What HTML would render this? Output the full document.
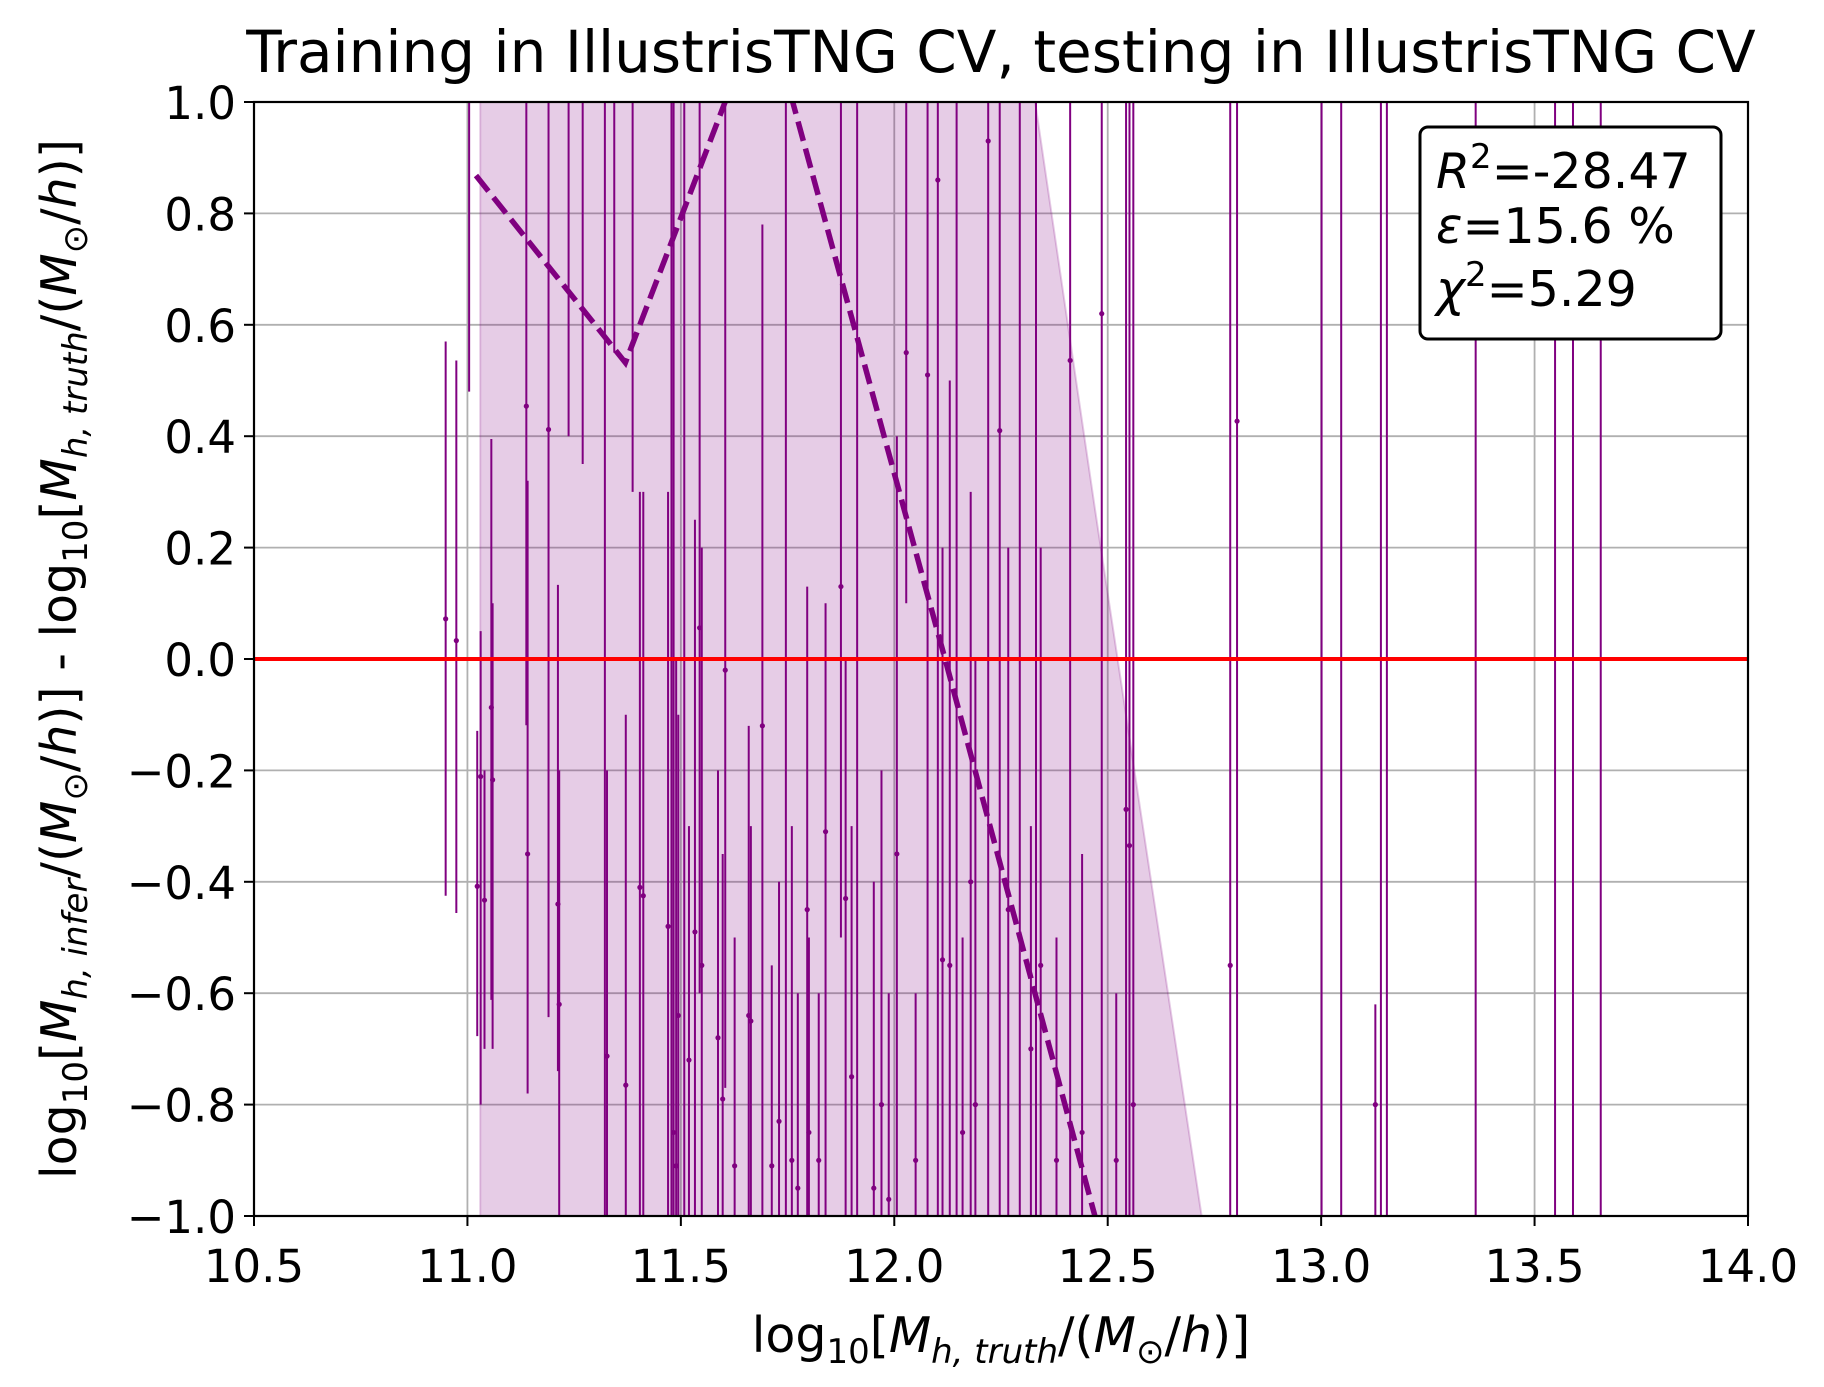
<!DOCTYPE html>
<html><head><meta charset="utf-8"><style>
html,body{margin:0;padding:0;background:#fff;overflow:hidden;width:1824px;height:1387px;}
svg{display:block;font-family:"DejaVu Sans","Liberation Sans",sans-serif;}
</style></head><body>
<svg id="chart" width="1824" height="1387" viewBox="0 0 1824 1387" xmlns="http://www.w3.org/2000/svg">
<rect width="1824" height="1387" fill="#fff"/>
<defs><clipPath id="plotclip"><rect x="254" y="102" width="1494" height="1114"/></clipPath></defs>
<g id="grid"></g>
<g id="band" clip-path="url(#plotclip)"></g>
<g id="bars" clip-path="url(#plotclip)"></g>
<g id="zero" clip-path="url(#plotclip)"></g>
<g id="trend" clip-path="url(#plotclip)"></g>
<g id="axes"></g>
<text x="1001" y="72" font-size="58" text-anchor="middle">Training in IllustrisTNG CV, testing in IllustrisTNG CV</text>
<text x="1001" y="1352" font-size="49" text-anchor="middle">log<tspan font-size="34" dy="11">10</tspan><tspan dy="-11">[</tspan><tspan font-style="italic">M</tspan><tspan font-size="34" dy="11" font-style="italic">h, truth</tspan><tspan dy="-11">/(</tspan><tspan font-style="italic">M</tspan><tspan font-size="34" dy="11">⊙</tspan><tspan dy="-11">/</tspan><tspan font-style="italic">h</tspan>)]</text>
<text transform="translate(76,659) rotate(-90)" font-size="49" text-anchor="middle">log<tspan font-size="34" dy="11">10</tspan><tspan dy="-11">[</tspan><tspan font-style="italic">M</tspan><tspan font-size="34" dy="11" font-style="italic">h, infer</tspan><tspan dy="-11">/(</tspan><tspan font-style="italic">M</tspan><tspan font-size="34" dy="11">⊙</tspan><tspan dy="-11">/</tspan><tspan font-style="italic">h</tspan>)] - log<tspan font-size="34" dy="11">10</tspan><tspan dy="-11">[</tspan><tspan font-style="italic">M</tspan><tspan font-size="34" dy="11" font-style="italic">h, truth</tspan><tspan dy="-11">/(</tspan><tspan font-style="italic">M</tspan><tspan font-size="34" dy="11">⊙</tspan><tspan dy="-11">/</tspan><tspan font-style="italic">h</tspan>)]</text>
<g>
<rect x="1420" y="127" width="301" height="212" rx="8" fill="#fff" stroke="#000" stroke-width="3"/>
<text x="1436" y="188" font-size="49"><tspan font-style="italic">R</tspan><tspan font-size="34" dy="-20">2</tspan><tspan dy="20">=-28.47</tspan></text>
<text x="1436" y="243" font-size="49"><tspan font-style="italic">ε</tspan>=15.6 %</text>
<text x="1436" y="306" font-size="49"><tspan font-style="italic">χ</tspan><tspan font-size="34" dy="-20">2</tspan><tspan dy="20">=5.29</tspan></text>
</g>
</svg>
<script>
const xTicks=[10.5,11.0,11.5,12.0,12.5,13.0,13.5,14.0];
const xTickLabels=["10.5","11.0","11.5","12.0","12.5","13.0","13.5","14.0"];
const yTicks=[-1,-0.8,-0.6,-0.4,-0.2,0,0.2,0.4,0.6,0.8,1.0];
const yTickLabels=["\u22121.0","\u22120.8","\u22120.6","\u22120.4","\u22120.2","0.0","0.2","0.4","0.6","0.8","1.0"];
const pointX=[10.949,10.974,11.004,11.023,11.031,11.040,11.056,11.059,11.138,11.141,11.190,11.212,11.215,11.237,11.270,11.322,11.327,11.344,11.371,11.387,11.404,11.412,11.470,11.478,11.483,11.489,11.494,11.508,11.519,11.533,11.544,11.549,11.587,11.598,11.604,11.626,11.659,11.664,11.691,11.713,11.730,11.746,11.774,11.796,11.823,11.839,11.875,11.886,11.913,11.952,11.987,12.006,12.028,12.078,12.102,12.113,12.130,12.146,12.179,12.220,12.247,12.267,12.294,12.332,12.343,12.412,12.486,12.543,12.551,12.787,12.803,13.001,13.047,13.127,13.140,13.154,13.362,13.548,13.590,13.655,11.76,11.80,11.90,11.97,12.05,12.16,12.19,12.32,12.38,12.44,12.52,12.56];
const pointY=[0.072,0.033,1.5,-0.408,-0.211,-0.433,-0.087,-0.217,0.454,-0.35,0.412,-0.44,-0.62,1.4,1.3,-2.5,-0.713,1.2,-0.765,1.1,-0.41,-0.425,-0.48,-2.5,-0.85,-0.91,-0.64,-2.5,-0.72,-0.49,0.056,-0.55,-0.68,-0.79,-0.02,-0.91,-0.64,-0.65,-0.12,-0.91,-0.83,-2.5,-0.95,-0.45,-0.9,-0.31,0.13,-0.43,-2.5,-0.95,-0.97,-0.35,0.55,0.51,0.86,-0.54,-0.55,-2.5,-0.40,0.93,0.41,-0.45,-2.5,-2.5,-0.55,0.536,0.62,-0.27,-0.335,-0.55,0.427,3,3,-0.8,3,3,3,3,3,3,-0.9,-0.85,-0.75,-0.8,-0.9,-0.85,-0.8,-0.7,-0.9,-0.85,-0.9,-0.8];
const errLow=[-0.425,-0.456,0.48,-0.677,-0.8,-0.7,-0.612,-0.7,-0.119,-0.78,-0.643,-0.74,-1.2,0.4,0.35,-3,-1.3,0.55,-1.3,0.3,-1.5,-1.5,-1.5,-3,-2,-1.5,-1.5,-3,-1.5,-1.5,-0.6,-1.5,-1.3,-1.3,-0.77,-1.5,-1.3,-1.2,-1.5,-1.4,-1.3,-3,-1.5,-1.5,-1.3,-1.5,-0.5,-1.5,-3,-1.5,-1.5,-1.2,0.1,-1.5,-1.5,-1.2,-1.3,-3,-1.5,-1.5,-1.5,-1.3,-3,-3,-1.4,-2,-2,-2,-2,-3,-3,-3,-3,-1,-3,-3,-3,-3,-3,-3,-1.5,-1.3,-1.3,-1.5,-1.3,-1.4,-1.5,-1.3,-1.3,-1.3,-1.2,-2];
const errHigh=[0.57,0.536,2.5,-0.129,0.05,-0.2,0.395,0.1,1.5,0.32,1.5,0.133,-0.2,2.5,2.5,3,-0.2,2,-0.1,2,0.3,0.3,0.3,3,2,0.0,-0.1,3,-0.3,0.25,1.5,0.2,-0.2,-0.35,1.5,-0.5,-0.12,-0.3,0.78,-0.55,-0.4,3,-0.6,0.13,-0.6,0.1,1.5,0.0,3,-0.4,-0.6,0.4,1.5,1.5,2,0.2,0.5,3,0.3,2,1.5,0.2,3,3,0.2,2,2,2,2,3,3,3,3,-0.62,3,3,3,3,3,3,-0.3,-0.5,-0.3,-0.2,-0.6,-0.5,0.0,-0.3,-0.5,-0.35,-0.6,2];
const bandX=[11.03,11.37,11.70,12.12,12.33,12.47,12.72];
const bandHigh=[3,3,3,3,1.0,0.27,-1.0];
const bandLow=[-3,-3,-3,-3,-3,-3,-3];
const trendX=[11.02,11.37,11.696,12.12,12.47,12.50];
const trendY=[0.868,0.532,1.185,-0.003,-1.0,-1.08];

const L=254,R=1748,T=102,B=1216,xmin=10.5,xmax=14,ymin=-1,ymax=1;
const sx=v=>L+(v-xmin)/(xmax-xmin)*(R-L);
const sy=v=>B-(v-ymin)/(ymax-ymin)*(B-T);
const NS="http://www.w3.org/2000/svg";
function mk(tag,attrs,parent){const e=document.createElementNS(NS,tag);for(const k in attrs)e.setAttribute(k,attrs[k]);parent.appendChild(e);return e;}
const grid=document.getElementById('grid'),axes=document.getElementById('axes');
xTicks.forEach((t,i)=>{
  const g=mk('line',{x1:sx(t),x2:sx(t),y1:T,y2:B,stroke:'#b0b0b0','stroke-width':1.8},grid);
  
  
  const tk=mk('line',{x1:sx(t),x2:sx(t),y1:B,y2:B+10,stroke:'#000','stroke-width':2},axes);
  
  
  const lb=mk('text',{x:sx(t),y:B+66,'font-size':45,'text-anchor':'middle'},axes);
  lb.textContent=xTickLabels[i];
  
  
});
yTicks.forEach((t,i)=>{
  const g=mk('line',{x1:L,x2:R,y1:sy(t),y2:sy(t),stroke:'#b0b0b0','stroke-width':1.8},grid);
  
  
  const tk=mk('line',{x1:L-10,x2:L,y1:sy(t),y2:sy(t),stroke:'#000','stroke-width':2},axes);
  
  
  const lb=mk('text',{x:L-18,y:sy(t)+17,'font-size':45,'text-anchor':'end'},axes);
  lb.textContent=yTickLabels[i];
  
  
});
const frame=mk('rect',{x:L,y:T,width:R-L,height:B-T,fill:'none',stroke:'#000','stroke-width':2.2},axes);


let pts=[];
bandX.forEach((x,i)=>pts.push(sx(x)+','+sy(bandHigh[i])));
for(let i=bandX.length-1;i>=0;i--)pts.push(sx(bandX[i])+','+sy(bandLow[i]));
const poly=mk('polygon',{points:pts.join(' '),fill:'#800080','fill-opacity':0.2,stroke:'#800080','stroke-opacity':0.2,'stroke-width':2},document.getElementById('band'));


const bars=document.getElementById('bars');
pointX.forEach((x,i)=>{
  const l=mk('line',{x1:sx(x),x2:sx(x),y1:sy(errLow[i]),y2:sy(errHigh[i]),stroke:'#800080','stroke-width':2},bars);
  
  
  const c=mk('circle',{cx:sx(x),cy:sy(pointY[i]),r:2.6,fill:'#800080'},bars);
  
  
});
const z=mk('line',{x1:L,x2:R,y1:sy(0),y2:sy(0),stroke:'#ff0000','stroke-width':4},document.getElementById('zero'));


const tp=mk('polyline',{points:trendX.map((x,i)=>sx(x)+','+sy(trendY[i])).join(' '),fill:'none',stroke:'#800080','stroke-width':5.5,'stroke-dasharray':'20,8'},document.getElementById('trend'));


</script>
</body></html>
